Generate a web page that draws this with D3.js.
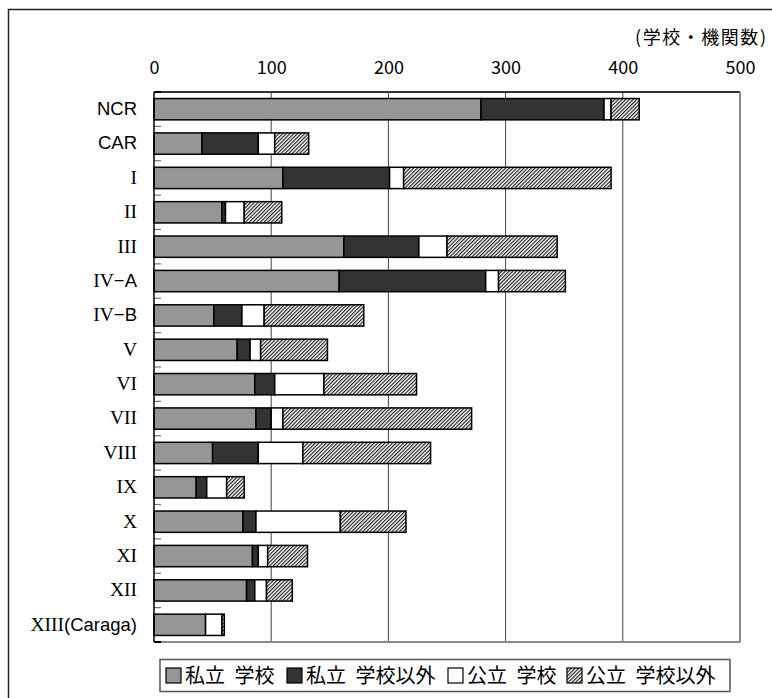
<!DOCTYPE html>
<html>
<head>
<meta charset="utf-8">
<script src="https://cdn.jsdelivr.net/npm/d3@7"></script>
<style>
  html, body { margin: 0; padding: 0; background: #fff; }
  svg { display: block; font-family: "Noto Sans CJK JP", "Noto Sans", sans-serif; }
</style>
</head>
<body>
<svg id="chart" width="772" height="698"></svg>
<script>
// Regions (top to bottom)
const categories = ["NCR", "CAR", "I", "II", "III", "IV−A", "IV−B", "V", "VI", "VII", "VIII", "IX", "X", "XI", "XII", "XIII(Caraga)"];

// Number of schools / institutions per group
const privateSchool = [279, 41, 110, 58, 162, 158, 51, 71, 86, 87, 50, 36, 76, 84, 79, 44];
const privateOther  = [105, 48,  91,  3,  64, 125, 24, 11, 17, 13, 39,  9, 11,  5,  7,  0];
const publicSchool  = [  6, 14,  12, 16,  24,  11, 19,  9, 42, 10, 38, 17, 72,  8, 10, 14];
const publicOther   = [ 24, 29, 177, 32,  94,  57, 85, 57, 79, 161, 109, 15, 56, 34, 22,  2];

const seriesNames = ["私立 学校", "私立 学校以外", "公立 学校", "公立 学校以外"];
const xTicks = [0, 100, 200, 300, 400, 500];
const unitLabel = "(学校・機関数)";

const svg = d3.select("#chart");

// hatch pattern for the last series
const defs = svg.append("defs");
const pat = defs.append("pattern")
  .attr("id", "hatch")
  .attr("patternUnits", "userSpaceOnUse")
  .attr("width", 2.6).attr("height", 2.6)
  .attr("patternTransform", "rotate(45)");
pat.append("rect").attr("width", 2.6).attr("height", 2.6).attr("fill", "#fff");
pat.append("line").attr("x1", 0.6).attr("y1", 0).attr("x2", 0.6).attr("y2", 2.6)
  .attr("stroke", "#111").attr("stroke-width", 1.1);

const fills = ["#969696", "#333333", "#ffffff", "url(#hatch)"];

// outer frame
svg.append("rect")
  .attr("x", 8.5).attr("y", 9.5)
  .attr("width", 800).attr("height", 720)
  .attr("fill", "none").attr("stroke", "#222").attr("stroke-width", 1.5);

const plot = { left: 154, top: 92, right: 740, bottom: 642 };

const x = d3.scaleLinear().domain([0, 500]).range([plot.left, plot.right]);
const y = d3.scaleBand().domain(categories)
  .range([plot.top, plot.bottom])
  .paddingInner(0.38).paddingOuter(0.19);

// build stacked table from the arrays
const table = categories.map((c, i) => ({
  cat: c,
  s0: privateSchool[i], s1: privateOther[i], s2: publicSchool[i], s3: publicOther[i]
}));
const keys = ["s0", "s1", "s2", "s3"];
const stacked = d3.stack().keys(keys)(table);

// gridlines
svg.append("g").selectAll("line")
  .data(xTicks.filter(t => t > 0 && t < 500))
  .join("line")
  .attr("x1", d => x(d)).attr("x2", d => x(d))
  .attr("y1", plot.top).attr("y2", plot.bottom)
  .attr("stroke", "#444").attr("stroke-width", 1);

// plot frame: right and bottom lighter, top darker
svg.append("line").attr("x1", plot.left).attr("x2", plot.right)
  .attr("y1", plot.top).attr("y2", plot.top)
  .attr("stroke", "#333").attr("stroke-width", 2);
svg.append("line").attr("x1", plot.right).attr("x2", plot.right)
  .attr("y1", plot.top).attr("y2", plot.bottom)
  .attr("stroke", "#888").attr("stroke-width", 2);
svg.append("line").attr("x1", plot.left).attr("x2", plot.right)
  .attr("y1", plot.bottom).attr("y2", plot.bottom)
  .attr("stroke", "#888").attr("stroke-width", 2);

// bars
svg.append("g").selectAll("g")
  .data(stacked)
  .join("g")
  .attr("fill", (d, i) => fills[i])
  .selectAll("rect")
  .data(d => d.filter(p => p[1] - p[0] > 0))
  .join("rect")
  .attr("x", d => x(d[0]))
  .attr("width", d => x(d[1]) - x(d[0]))
  .attr("y", d => y(d.data.cat))
  .attr("height", y.bandwidth())
  .attr("stroke", "#000").attr("stroke-width", 1.5);

// category boundary ticks on the left axis
const boundaries = d3.range(categories.length + 1).map(i => plot.top + i * (plot.bottom - plot.top) / categories.length);
svg.append("g").selectAll("line")
  .data(boundaries)
  .join("line")
  .attr("x1", plot.left).attr("x2", plot.left + 7)
  .attr("y1", d => d).attr("y2", d => d)
  .attr("stroke", (d, i) => (i === 0 || i === categories.length) ? "#000" : "#777")
  .attr("stroke-width", (d, i) => (i === 0 || i === categories.length) ? 2 : 1.2);

// left axis line
svg.append("line").attr("x1", plot.left).attr("x2", plot.left)
  .attr("y1", plot.top).attr("y2", plot.bottom)
  .attr("stroke", "#000").attr("stroke-width", 1.5);

// category labels: roman numerals set in a serif face, the rest in sans
const yAxis = d3.axisLeft(y).tickSize(0).tickPadding(17).tickFormat(() => "");
const gy = svg.append("g").attr("transform", `translate(${plot.left},0)`).call(yAxis);
gy.select(".domain").remove();
gy.selectAll(".tick text").each(function(d) {
  const t = d3.select(this).attr("fill", "#000").attr("font-size", 18.5);
  const m = d.match(/^([IVX]+)(.*)$/);
  if (m) {
    t.append("tspan").attr("font-family", "'Liberation Serif', serif")
      .attr("font-size", 19.5).text(m[1]);
    if (m[2]) t.append("tspan").attr("font-family", "'Liberation Sans', sans-serif").text(m[2]);
  } else {
    t.append("tspan").attr("font-family", "'Liberation Sans', sans-serif").text(d);
  }
});

// top value axis
const xAxis = d3.axisTop(x).tickValues(xTicks).tickFormat(d3.format("d")).tickSize(0).tickPadding(18);
const gx = svg.append("g").attr("transform", `translate(0,${plot.top})`).call(xAxis);
gx.select(".domain").remove();
gx.selectAll("text").attr("font-size", 18).attr("fill", "#000")
  .attr("font-family", "'Noto Sans CJK JP', sans-serif");

// unit label
svg.append("text")
  .attr("x", 766).attr("y", 44)
  .attr("text-anchor", "end")
  .attr("font-size", 18)
  .attr("textLength", 131)
  .attr("lengthAdjust", "spacing")
  .text(unitLabel);

// legend
const legend = svg.append("g");
legend.append("rect")
  .attr("x", 160).attr("y", 659.5)
  .attr("width", 570).attr("height", 32)
  .attr("fill", "#fff").attr("stroke", "#555").attr("stroke-width", 1.5);
const legendX = [166, 287, 448, 567];
seriesNames.forEach((name, i) => {
  const g = legend.append("g").attr("transform", `translate(${legendX[i]},675.5)`);
  g.append("rect").attr("x", 0).attr("y", -7.5).attr("width", 15).attr("height", 15)
    .attr("fill", fills[i]).attr("stroke", "#000").attr("stroke-width", 1.2);
  g.append("text").attr("x", 19).attr("y", 0).attr("dy", "0.36em")
    .attr("font-size", 20).attr("word-spacing", 5).text(name);
});
</script>
</body>
</html>
